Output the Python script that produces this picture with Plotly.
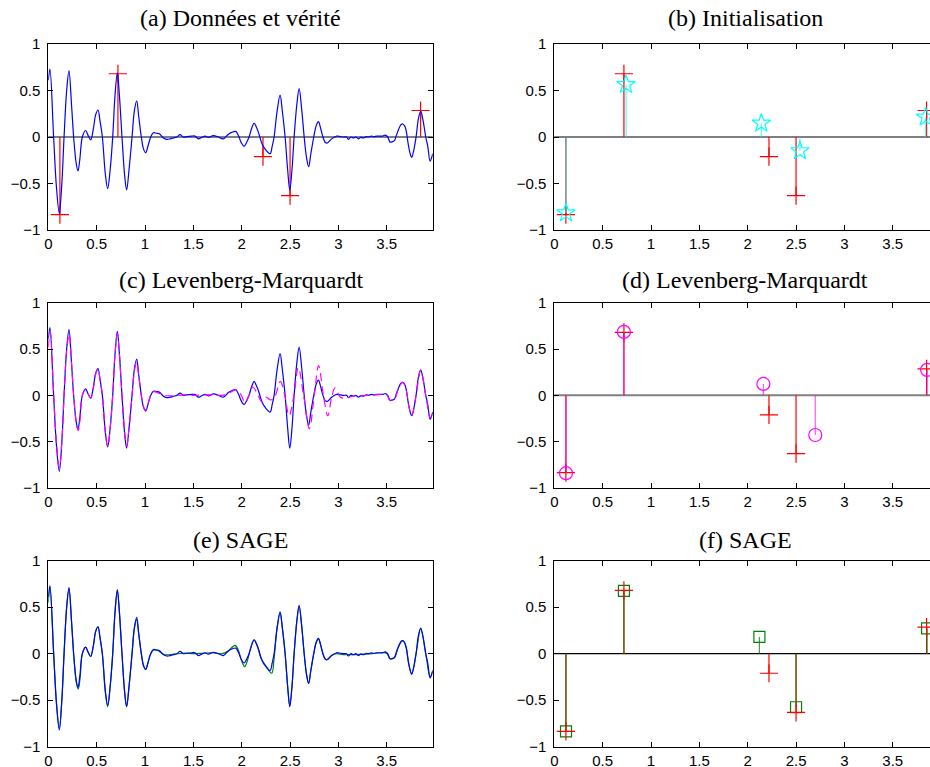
import plotly.graph_objects as go

# ---------------- data ----------------
# true spikes (red +)
truth_t = [0.12, 0.72, 2.22, 2.50, 3.85]
truth_a = [-0.835, 0.68, -0.21, -0.63, 0.285]

# initialisation (cyan stars)
init_t = [0.121, 0.742, 2.141, 2.54, 3.84]
init_a = [-0.816, 0.563, 0.148, -0.148, 0.213]

# Levenberg-Marquardt estimate (magenta circles)
lm_t = [0.121, 0.72, 2.162, 2.699, 3.855]
lm_a = [-0.84, 0.685, 0.123, -0.428, 0.275]

# SAGE estimate (green squares)
sage_t = [0.121, 0.72, 2.121, 2.50, 3.855]
sage_a = [-0.835, 0.676, 0.18, -0.576, 0.273]

# observed data (blue)
data_t = [0.000, 0.017, 0.055, 0.085, 0.114, 0.140, 0.163, 0.190, 0.214, 0.240,
          0.262, 0.288, 0.307, 0.325, 0.352, 0.386, 0.410, 0.438, 0.465, 0.490,
          0.514, 0.535, 0.559, 0.590, 0.614, 0.640, 0.666, 0.690, 0.714, 0.735,
          0.762, 0.790, 0.810, 0.835, 0.866, 0.890, 0.914, 0.935, 0.962, 0.985,
          1.007, 1.030, 1.059, 1.086, 1.120, 1.148, 1.190, 1.224, 1.260, 1.295,
          1.330, 1.362, 1.397, 1.431, 1.483, 1.517, 1.552, 1.586, 1.621, 1.655,
          1.707, 1.759, 1.810, 1.862, 1.897, 1.938, 1.966, 1.995, 2.024, 2.050,
          2.076, 2.105, 2.128, 2.150, 2.173, 2.211, 2.250, 2.294, 2.315, 2.335,
          2.365, 2.397, 2.420, 2.449, 2.475, 2.497, 2.520, 2.542, 2.570, 2.594,
          2.620, 2.646, 2.670, 2.692, 2.715, 2.745, 2.770, 2.793, 2.815, 2.840,
          2.865, 2.886, 2.930, 2.983, 3.020, 3.052, 3.085, 3.103, 3.130, 3.155,
          3.180, 3.207, 3.230, 3.259, 3.290, 3.310, 3.340, 3.362, 3.400, 3.431,
          3.460, 3.483, 3.510, 3.534, 3.560, 3.579, 3.600, 3.620, 3.645, 3.665,
          3.685, 3.700, 3.724, 3.745, 3.758, 3.780, 3.803, 3.828, 3.851, 3.875,
          3.903, 3.924, 3.948, 3.965, 3.975]
data_y = [0.61, 0.73, 0.00, -0.55, -0.82, -0.50, 0.00, 0.50, 0.71, 0.35,
          0.00, -0.28, -0.365, -0.25, 0.00, 0.07, 0.02, -0.03, 0.08, 0.24,
          0.29, 0.17, 0.00, -0.40, -0.556, -0.35, 0.00, 0.45, 0.69, 0.45,
          0.00, -0.42, -0.57, -0.35, 0.00, 0.28, 0.39, 0.22, 0.00, -0.13,
          -0.17, -0.10, 0.00, 0.045, 0.04, 0.035, -0.01, -0.025, -0.02, -0.01,
          0.00, 0.025, 0.00, 0.005, 0.01, 0.01, -0.02, -0.005, 0.01, -0.005,
          0.015, 0.00, -0.02, 0.03, 0.05, 0.06, 0.015, -0.06, -0.10, -0.06,
          0.00, 0.10, 0.15, 0.11, 0.05, -0.075, -0.14, -0.18, -0.10, 0.00,
          0.27, 0.45, 0.28, 0.00, -0.35, -0.57, -0.35, 0.00, 0.35, 0.52,
          0.30, 0.00, -0.22, -0.32, -0.18, 0.00, 0.12, 0.165, 0.10, 0.00,
          -0.06, -0.065, -0.02, 0.01, 0.005, 0.00, 0.00, -0.025, 0.00, -0.01,
          0.00, -0.02, -0.005, -0.01, 0.005, 0.00, 0.01, 0.005, 0.01, 0.01,
          0.01, 0.02, 0.00, -0.055, -0.05, -0.04, 0.02, 0.075, 0.13, 0.14,
          0.12, 0.07, -0.09, -0.19, -0.22, -0.14, 0.00, 0.20, 0.275, 0.18,
          0.00, -0.10, -0.26, -0.22, -0.18]

# Levenberg-Marquardt reconstruction (magenta dashed)
lm_rec_t = [0.000, 0.020, 0.055, 0.085, 0.115, 0.140, 0.163, 0.190, 0.215, 0.240,
            0.262, 0.290, 0.310, 0.330, 0.352, 0.385, 0.410, 0.440, 0.465, 0.490,
            0.515, 0.535, 0.559, 0.590, 0.615, 0.640, 0.666, 0.690, 0.715, 0.735,
            0.762, 0.790, 0.810, 0.835, 0.866, 0.890, 0.912, 0.935, 0.962, 0.985,
            1.005, 1.030, 1.060, 1.090, 1.130, 1.200, 1.300, 1.400, 1.500, 1.600,
            1.700, 1.800, 1.880, 1.930, 1.970, 2.000, 2.035, 2.075, 2.115, 2.160,
            2.210, 2.250, 2.300, 2.340, 2.400, 2.445, 2.490, 2.540, 2.585, 2.640,
            2.700, 2.750, 2.795, 2.845, 2.890, 2.930, 2.965, 3.020, 3.080, 3.150,
            3.300, 3.450, 3.500, 3.530, 3.580, 3.620, 3.665, 3.700, 3.725, 3.758,
            3.803, 3.851, 3.903, 3.950, 3.975]
lm_rec_y = [0.52, 0.68, 0.02, -0.52, -0.78, -0.50, 0.00, 0.48, 0.66, 0.35,
            0.00, -0.30, -0.38, -0.25, 0.00, 0.06, 0.02, -0.03, 0.07, 0.23,
            0.28, 0.17, 0.00, -0.40, -0.55, -0.35, 0.00, 0.44, 0.67, 0.45,
            0.00, -0.40, -0.55, -0.35, 0.00, 0.26, 0.36, 0.21, 0.00, -0.12,
            -0.16, -0.09, 0.00, 0.04, 0.03, 0.00, -0.005, 0.005, 0.00, 0.005,
            0.005, 0.00, 0.03, 0.06, 0.05, -0.01, -0.08, 0.00, 0.09, 0.02,
            -0.07, -0.02, -0.05, -0.02, 0.15, 0.00, -0.22, 0.00, 0.30, 0.00,
            -0.36, 0.00, 0.32, 0.00, -0.22, -0.02, 0.08, -0.02, -0.03, -0.01,
            0.00, 0.01, 0.005, -0.05, -0.04, 0.07, 0.14, 0.06, -0.10, -0.22,
            0.00, 0.27, 0.00, -0.24, -0.18]

# SAGE reconstruction (green)
sage_rec_t = [0.000, 0.017, 0.055, 0.085, 0.114, 0.140, 0.163, 0.190, 0.214, 0.240,
              0.262, 0.288, 0.310, 0.330, 0.352, 0.386, 0.410, 0.438, 0.465, 0.490,
              0.514, 0.535, 0.559, 0.590, 0.614, 0.640, 0.666, 0.690, 0.714, 0.735,
              0.762, 0.790, 0.810, 0.835, 0.866, 0.890, 0.914, 0.935, 0.962, 0.985,
              1.007, 1.030, 1.059, 1.090, 1.130, 1.200, 1.300, 1.400, 1.500, 1.600,
              1.700, 1.800, 1.860, 1.930, 1.965, 2.000, 2.030, 2.060, 2.090, 2.128,
              2.160, 2.200, 2.250, 2.310, 2.335, 2.365, 2.397, 2.420, 2.449, 2.475,
              2.497, 2.520, 2.542, 2.570, 2.594, 2.620, 2.646, 2.670, 2.692, 2.715,
              2.745, 2.770, 2.793, 2.815, 2.840, 2.865, 2.886, 2.930, 2.980, 3.050,
              3.150, 3.250, 3.350, 3.450, 3.500, 3.534, 3.579, 3.620, 3.665, 3.700,
              3.724, 3.758, 3.803, 3.851, 3.903, 3.948, 3.975]
sage_rec_y = [0.55, 0.72, 0.02, -0.53, -0.80, -0.50, 0.00, 0.50, 0.70, 0.35,
              0.00, -0.30, -0.38, -0.25, 0.00, 0.07, 0.02, -0.03, 0.08, 0.24,
              0.29, 0.17, 0.00, -0.42, -0.57, -0.35, 0.00, 0.45, 0.68, 0.45,
              0.00, -0.42, -0.57, -0.35, 0.00, 0.27, 0.37, 0.21, 0.00, -0.13,
              -0.17, -0.10, 0.00, 0.04, 0.035, -0.01, -0.005, 0.005, 0.00, 0.005,
              0.01, 0.00, 0.03, 0.09, 0.04, -0.08, -0.14, -0.07, 0.05, 0.15,
              0.09, -0.05, -0.13, -0.21, -0.05, 0.27, 0.44, 0.28, 0.00, -0.35,
              -0.56, -0.35, 0.00, 0.35, 0.51, 0.30, 0.00, -0.22, -0.32, -0.18,
              0.00, 0.12, 0.16, 0.10, 0.00, -0.06, -0.06, -0.02, 0.00, -0.01,
              -0.01, -0.005, 0.00, 0.01, 0.005, -0.055, -0.045, 0.07, 0.14, 0.07,
              -0.09, -0.22, 0.00, 0.27, 0.00, -0.25, -0.19]

titles = ["(a) Données et vérité", "(b) Initialisation",
          "(c) Levenberg-Marquardt", "(d) Levenberg-Marquardt",
          "(e) SAGE", "(f) SAGE"]
x_ticks = [0, 0.5, 1, 1.5, 2, 2.5, 3, 3.5]
x_tick_labels = ["0", "0.5", "1", "1.5", "2", "2.5", "3", "3.5"]
y_ticks = [-1, -0.5, 0, 0.5, 1]
y_tick_labels = ["\u22121", "\u22120.5", "0", "0.5", "1"]

# ---------------- helpers ----------------
RED = "rgb(255,0,0)"
BLUE = "rgb(0,0,255)"
CYAN = "rgb(0,255,255)"
MAG = "rgb(255,0,255)"
GREEN = "rgb(0,128,0)"


def stem_xy(ts, vals):
    xs, ys = [], []
    for t, v in zip(ts, vals):
        xs += [t, t, None]
        ys += [0, v, None]
    return xs, ys


fig = go.Figure()


def add_stems(ts, vals, color, symbol, size, ax, ay, stem_color=None, lw=1.2):
    xs, ys = stem_xy(ts, vals)
    fig.add_trace(go.Scatter(x=xs, y=ys, mode="lines",
                             line=dict(color=stem_color or color, width=lw),
                             xaxis=ax, yaxis=ay, showlegend=False, hoverinfo="skip"))
    fig.add_trace(go.Scatter(x=ts, y=vals, mode="markers",
                             marker=dict(symbol=symbol, size=size, color=color,
                                         line=dict(color=color, width=1.2)),
                             xaxis=ax, yaxis=ay, showlegend=False))


SPL = dict(shape="spline", smoothing=1.0)
# (a)
add_stems(truth_t, truth_a, RED, "cross-thin", 13, "x", "y")
fig.add_trace(go.Scatter(x=data_t, y=data_y, mode="lines", line=dict(color=BLUE, width=1.2, **SPL),
                         xaxis="x", yaxis="y", showlegend=False))
# (b)
add_stems(truth_t, truth_a, RED, "cross-thin", 13, "x2", "y2")
add_stems(init_t, init_a, CYAN, "star-open", 14, "x2", "y2", stem_color="rgba(0,255,255,0.7)")
# (c)
fig.add_trace(go.Scatter(x=data_t, y=data_y, mode="lines", line=dict(color=BLUE, width=1.2, **SPL),
                         xaxis="x3", yaxis="y3", showlegend=False))
fig.add_trace(go.Scatter(x=lm_rec_t, y=lm_rec_y, mode="lines",
                         line=dict(color=MAG, width=1.2, dash="8px,5px", **SPL),
                         xaxis="x3", yaxis="y3", showlegend=False))
# (d)
add_stems(truth_t, truth_a, RED, "cross-thin", 13, "x4", "y4")
add_stems(lm_t, lm_a, MAG, "circle-open", 13, "x4", "y4", stem_color="rgba(255,0,255,0.65)")
# (e)
fig.add_trace(go.Scatter(x=sage_rec_t, y=sage_rec_y, mode="lines", line=dict(color=GREEN, width=1.2, **SPL),
                         xaxis="x5", yaxis="y5", showlegend=False))
fig.add_trace(go.Scatter(x=data_t, y=data_y, mode="lines", line=dict(color=BLUE, width=1.2, **SPL),
                         xaxis="x5", yaxis="y5", showlegend=False))
# (f)
xs, ys = stem_xy(truth_t, truth_a)
fig.add_trace(go.Scatter(x=xs, y=ys, mode="lines", line=dict(color=RED, width=1.2),
                         xaxis="x6", yaxis="y6", showlegend=False))
add_stems(sage_t, sage_a, GREEN, "square-open", 11, "x6", "y6", stem_color="rgba(0,128,0,0.75)")
fig.add_trace(go.Scatter(x=truth_t, y=truth_a, mode="markers",
                         marker=dict(symbol="cross-thin", size=13, color=RED, line=dict(color=RED, width=1.2)),
                         xaxis="x6", yaxis="y6", showlegend=False))

# ---------------- layout ----------------
W, H = 930, 767
left_dom = [48.3 / W, 432.7 / W]
right_dom = [554.3 / W, 1.0]
rows = [[1 - 230 / H, 1 - 44 / H], [1 - 488 / H, 1 - 302.7 / H], [1 - 746.7 / H, 1 - 560.7 / H]]
tick_font = dict(family="Liberation Sans, Arial, sans-serif", size=15, color="black")

layout = dict(width=W, height=H, margin=dict(l=0, r=0, t=0, b=0, pad=0, autoexpand=False),
              paper_bgcolor="white", plot_bgcolor="white", showlegend=False)

for i in range(6):
    r, c = divmod(i, 2)
    n = "" if i == 0 else str(i + 1)
    left = c == 0
    layout["xaxis" + n] = dict(
        domain=left_dom if left else right_dom,
        range=[0, 3.975] if left else [0, (930 - 554.3) / 96.7],
        anchor="y" + n, tickvals=x_ticks, ticktext=x_tick_labels,
        ticks="inside", ticklen=5, tickcolor="black", tickwidth=1,
        showline=True, linecolor="black", linewidth=1, mirror="ticks",
        showgrid=False, zeroline=False, tickfont=tick_font, automargin=False)
    layout["yaxis" + n] = dict(
        domain=rows[r], range=[-1, 1], anchor="x" + n,
        tickvals=y_ticks, ticktext=y_tick_labels,
        ticks="inside", ticklen=5, tickcolor="black", tickwidth=1,
        showline=True, linecolor="black", linewidth=1,
        mirror="ticks" if left else False,
        showgrid=False, zeroline=False, tickfont=tick_font, ticklabelstandoff=4,
        automargin=False)

fig.update_layout(**layout)

# baselines
for n, col, w in [("", "black", 1.2), ("2", "black", 1.2), ("4", "rgb(128,128,128)", 2), ("6", "black", 1.2)]:
    fig.add_shape(type="line", xref=("x" + n + " domain"), yref=("y" + n), x0=0, x1=1, y0=0, y1=0,
                  line=dict(color=col, width=w), layer="below")

# titles
title_x = [240.5 / W, 745 / W]
title_y = [1 - 18 / H, 1 - 280 / H, 1 - 540 / H]
for i, t in enumerate(titles):
    r, c = divmod(i, 2)
    fig.add_annotation(text=t, x=title_x[c], y=title_y[r], xref="paper", yref="paper",
                       showarrow=False, xanchor="center", yanchor="middle",
                       font=dict(family="Liberation Serif, Times New Roman, serif", size=24, color="black"))

fig.write_html("out.html", config={"displayModeBar": False, "staticPlot": True},
               post_script="document.body.style.margin='0px';document.body.style.overflow='hidden';")
